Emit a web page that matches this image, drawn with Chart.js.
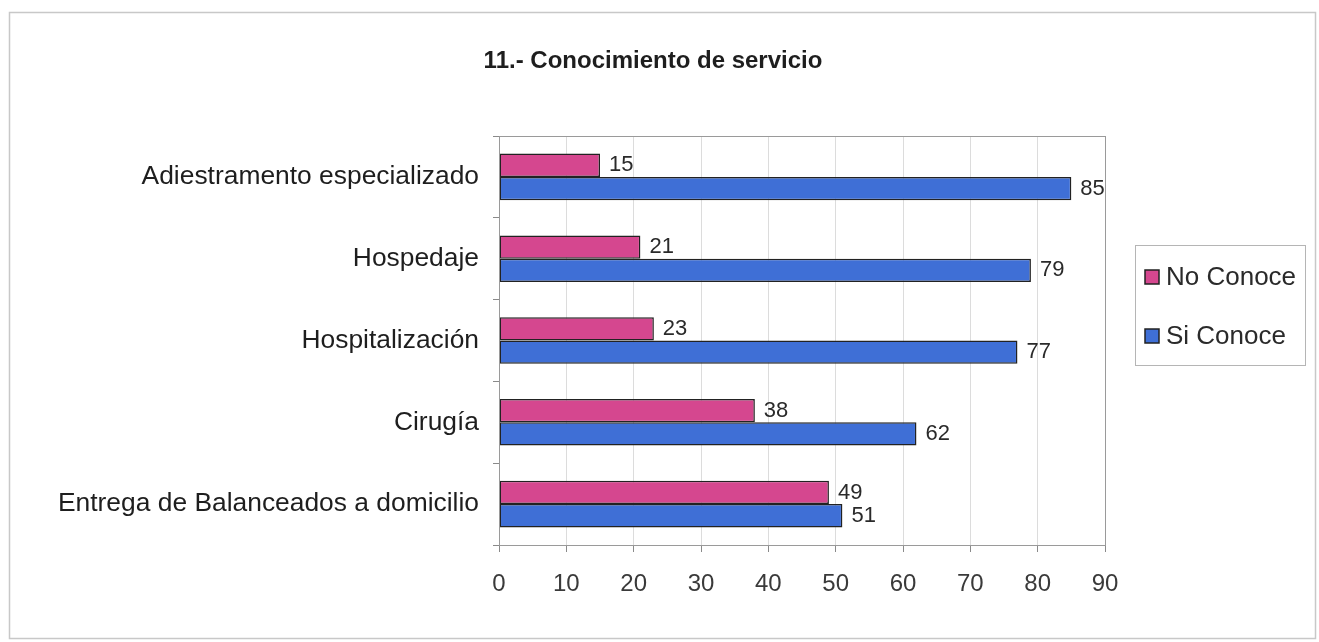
<!DOCTYPE html>
<html>
<head>
<meta charset="utf-8">
<script src="https://cdn.jsdelivr.net/npm/chart.js@4"></script>
<style>
  html, body { margin: 0; padding: 0; background: #fff; }
  #wrap { width: 1319px; height: 642px; }
</style>
</head>
<body>
<div id="wrap"><canvas id="c" width="1319" height="642"></canvas></div>
<script>
// Services surveyed, top to bottom
const categories = [
  'Adiestramento especializado',
  'Hospedaje',
  'Hospitalización',
  'Cirugía',
  'Entrega de Balanceados a domicilio'
];
const noConoce = [15, 21, 23, 38, 49];
const siConoce = [85, 79, 77, 62, 51];
const seriesNames = ['No Conoce', 'Si Conoce'];
const xTicks = [0, 10, 20, 30, 40, 50, 60, 70, 80, 90];
const chartTitle = '11.- Conocimiento de servicio';

const PINK = '#d5478f';
const BLUE = '#3f6fd6';
const EDGE = '#222222';
const FONT = 'Arial, "Liberation Sans", Helvetica, sans-serif';

// Outer frame of the whole chart
const outerFrame = {
  id: 'outerFrame',
  beforeDraw(chart) {
    const ctx = chart.ctx;
    ctx.save();
    ctx.fillStyle = '#ffffff';
    ctx.fillRect(0, 0, chart.width, chart.height);
    ctx.strokeStyle = '#c8c8c8';
    ctx.lineWidth = 1.5;
    ctx.strokeRect(9.5, 12.5, 1306, 626);
    ctx.restore();
  }
};

// Heading centred above the whole figure
const heading = {
  id: 'heading',
  afterDraw(chart) {
    const ctx = chart.ctx;
    ctx.save();
    ctx.font = 'bold 24px ' + FONT;
    ctx.fillStyle = '#1e1e1e';
    ctx.textAlign = 'center';
    ctx.textBaseline = 'middle';
    ctx.fillText(chartTitle, 653, 61);
    ctx.restore();
  }
};

// Grey box around the plotting area
const plotFrame = {
  id: 'plotFrame',
  afterDraw(chart) {
    const a = chart.chartArea;
    const ctx = chart.ctx;
    ctx.save();
    ctx.strokeStyle = '#9a9a9a';
    ctx.lineWidth = 1;
    ctx.strokeRect(Math.round(a.left) + 0.5, Math.round(a.top) + 0.5,
                   Math.round(a.right - a.left), Math.round(a.bottom - a.top));
    ctx.restore();
  }
};

// Value printed just past the end of each bar
const barValues = {
  id: 'barValues',
  afterDatasetsDraw(chart) {
    const ctx = chart.ctx;
    ctx.save();
    ctx.font = '22px ' + FONT;
    ctx.fillStyle = '#2a2a2a';
    ctx.textAlign = 'left';
    ctx.textBaseline = 'middle';
    chart.data.datasets.forEach((ds, i) => {
      chart.getDatasetMeta(i).data.forEach((bar, j) => {
        ctx.fillText(String(ds.data[j]), bar.x + 9, bar.y);
      });
    });
    ctx.restore();
  }
};

// Boxed legend to the right of the plot
const boxLegend = {
  id: 'boxLegend',
  afterDraw(chart) {
    const ctx = chart.ctx;
    const bx = 1135, by = 245, bw = 170, bh = 120;
    ctx.save();
    ctx.strokeStyle = '#b5b5b5';
    ctx.lineWidth = 1;
    ctx.strokeRect(bx + 0.5, by + 0.5, bw, bh);
    const rows = [277, 336];
    ctx.font = '26px ' + FONT;
    ctx.textBaseline = 'middle';
    ctx.textAlign = 'left';
    chart.data.datasets.forEach((ds, i) => {
      const y = rows[i];
      ctx.fillStyle = ds.backgroundColor;
      ctx.fillRect(1145, y - 7, 14, 14);
      ctx.strokeStyle = EDGE;
      ctx.lineWidth = 1.5;
      ctx.strokeRect(1145, y - 7, 14, 14);
      ctx.fillStyle = '#2a2a2a';
      ctx.fillText(ds.label, 1166, y + 1);
    });
    ctx.restore();
  }
};

new Chart(document.getElementById('c'), {
  type: 'bar',
  data: {
    labels: categories,
    datasets: [
      { label: seriesNames[0], data: noConoce, backgroundColor: PINK,
        borderColor: EDGE, borderWidth: 1.5, borderSkipped: false },
      { label: seriesNames[1], data: siConoce, backgroundColor: BLUE,
        borderColor: EDGE, borderWidth: 1.5, borderSkipped: false }
    ]
  },
  options: {
    indexAxis: 'y',
    responsive: false,
    animation: false,
    layout: { padding: { left: 0, right: 214, top: 136, bottom: 0 } },
    datasets: { bar: { categoryPercentage: 0.57, barPercentage: 1.0 } },
    scales: {
      x: {
        min: 0,
        max: 90,
        afterBuildTicks(scale) { scale.ticks = xTicks.map(v => ({ value: v })); },
        afterFit(scale) { scale.height = 97; },
        ticks: {
          stepSize: 10,
          padding: 18,
          color: '#3a3a3a',
          font: { family: FONT, size: 24 }
        },
        grid: {
          color: '#dcdcdc',
          tickColor: '#8a8a8a',
          tickLength: 7,
          lineWidth: 1
        },
        border: { display: false }
      },
      y: {
        afterFit(scale) { scale.width = 499; },
        ticks: {
          padding: 14,
          color: '#1e1e1e',
          font: { family: FONT, size: 26.4 }
        },
        grid: {
          offset: true,
          drawOnChartArea: false,
          tickColor: '#8a8a8a',
          tickLength: 6
        },
        border: { display: false }
      }
    },
    plugins: {
      legend: { display: false },
      tooltip: { enabled: false },
      title: { display: false }
    }
  },
  plugins: [outerFrame, plotFrame, barValues, boxLegend, heading]
});
</script>
</body>
</html>
